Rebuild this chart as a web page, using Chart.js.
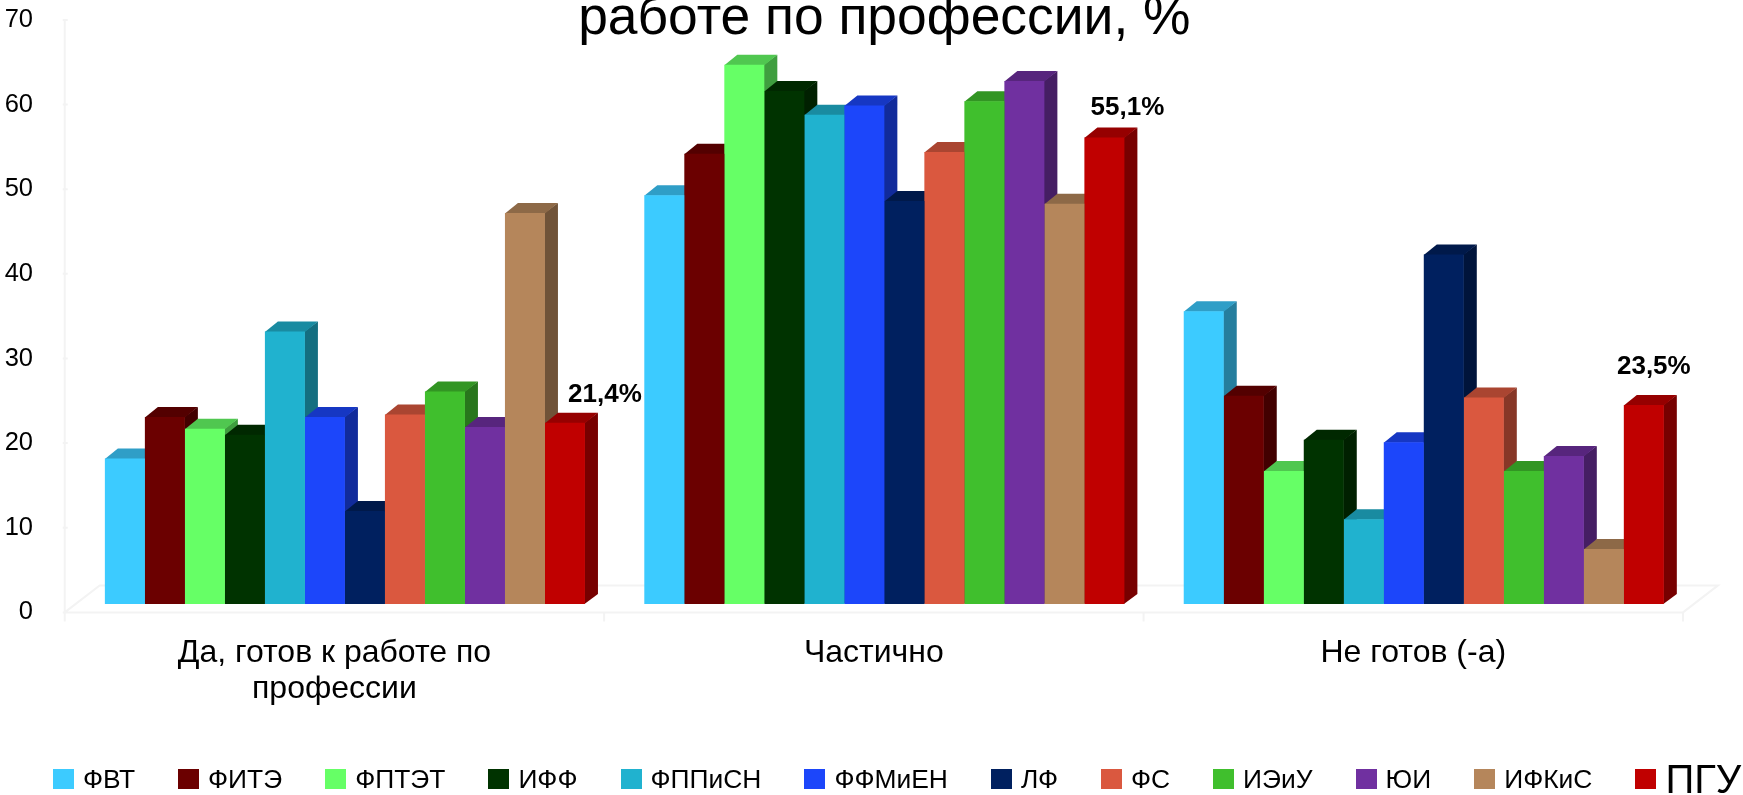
<!DOCTYPE html>
<html lang="ru"><head><meta charset="utf-8">
<script src="https://cdn.jsdelivr.net/npm/chart.js@4"></script>
<style>
html,body{margin:0;padding:0;background:#fff;width:1743px;height:795px;overflow:hidden;position:relative}
#c{position:absolute;left:0;top:0}
#legend{position:absolute;left:53px;top:748px;height:62px;display:flex;align-items:center;white-space:nowrap;font-family:"Liberation Sans",Arial,sans-serif;color:#000;font-size:26.4px}
#legend .it{display:flex;align-items:center;margin-right:43px}
#legend .sw{display:inline-block;width:21px;height:20px;margin-right:9px}
</style></head><body>
<canvas id="c" width="1743" height="795"></canvas>
<div id="legend"></div>
<script>
const categories = [["Да, готов к работе по","профессии"],"Частично","Не готов (-а)"];
const seriesNames = ["ФВТ","ФИТЭ","ФПТЭТ","ИФФ","ФППиСН","ФФМиЕН","ЛФ","ФС","ИЭиУ","ЮИ","ИФКиС","ПГУ"];
const seriesColors = ["#3ccbff","#6b0000","#66ff66","#003300","#20b2cf","#1c46fa","#00205f","#da583f","#40bf2d","#7030a0","#b5865b","#c00000"];
const fvt    = [17.2,48.3,34.6];
const fite   = [22.1,53.2,24.6];
const fptet  = [20.7,63.7,15.7];
const iff    = [20.0,60.6,19.4];
const fppisn = [32.2,57.8,10.0];
const ffmien = [22.1,58.9,19.1];
const lf     = [11.0,47.6,41.3];
const fs     = [22.4,53.4,24.4];
const ieiu   = [25.1,59.4,15.7];
const yui    = [20.9,61.8,17.5];
const ifkis  = [46.2,47.3,6.5];
const pgu    = [21.4,55.1,23.5];
const seriesValues = [fvt,fite,fptet,iff,fppisn,ffmien,lf,fs,ieiu,yui,ifkis,pgu];
const pguLabels = ["21,4%","55,1%","23,5%"];
const pguLabelOffsets = [[40,-28],[23,-30],[10,-38]];

const FONT = '"Liberation Sans", Arial, sans-serif';
const DX = 13, DY = 10, TICK_SHIFT_Y = 8.4, TICK_SHIFT_X = -10.5, FLOOR_DX = 35, FLOOR_DY = 27;
function shade(hex,f){const n=parseInt(hex.slice(1),16);return `rgb(${Math.round((n>>16&255)*f)},${Math.round((n>>8&255)*f)},${Math.round((n&255)*f)})`;}

const wall3d = {
  id:'wall3d',
  beforeDatasetsDraw(chart){
    const {ctx,scales:{x,y}} = chart;
    const bottom = y.getPixelForValue(0)+TICK_SHIFT_Y;
    const top = y.getPixelForValue(70)+TICK_SHIFT_Y;
    const band = (x.right-x.left)/categories.length;
    const left = x.left+TICK_SHIFT_X, right = x.right+TICK_SHIFT_X;
    ctx.save();
    ctx.strokeStyle='#f3f3f3'; ctx.lineWidth=2;
    ctx.beginPath();
    ctx.moveTo(left,top); ctx.lineTo(left,bottom+9);
    ctx.moveTo(left,bottom); ctx.lineTo(right,bottom);
    ctx.moveTo(left,bottom); ctx.lineTo(left+FLOOR_DX,bottom-FLOOR_DY); ctx.lineTo(right+FLOOR_DX,bottom-FLOOR_DY); ctx.lineTo(right,bottom);
    for(let i=1;i<=categories.length;i++){ctx.moveTo(left+band*i,bottom);ctx.lineTo(left+band*i,bottom+9);}
    for(const t of y.ticks){const p=y.getPixelForValue(t.value)+TICK_SHIFT_Y;ctx.moveTo(left-2,p);ctx.lineTo(left+3,p);}
    ctx.stroke();
    // side and top faces, left to right, so that each bar's faces cover its left neighbour's
    seriesNames.forEach((n,i)=>{
      const col = seriesColors[i];
      for(const el of chart.getDatasetMeta(i).data){
        const w = el.width, l = el.x-w/2, r = el.x+w/2, t = el.y, b = el.base;
        ctx.fillStyle = shade(col,0.62);
        ctx.beginPath();ctx.moveTo(r-0.5,t);ctx.lineTo(r+DX,t-DY);ctx.lineTo(r+DX,b-DY);ctx.lineTo(r-0.5,b);ctx.closePath();ctx.fill();
        ctx.fillStyle = shade(col,0.78);
        ctx.beginPath();ctx.moveTo(l,t+0.5);ctx.lineTo(l+DX,t-DY);ctx.lineTo(r+DX,t-DY);ctx.lineTo(r,t+0.5);ctx.closePath();ctx.fill();
      }
    });
    ctx.restore();
  },
  afterDatasetsDraw(chart){
    const {ctx} = chart;
    const meta = chart.getDatasetMeta(seriesNames.length-1);
    ctx.save();
    ctx.font = 'bold 26px '+FONT; ctx.fillStyle='#000'; ctx.textAlign='center'; ctx.textBaseline='middle';
    meta.data.forEach((el,i)=>ctx.fillText(pguLabels[i],el.x+pguLabelOffsets[i][0],el.y+pguLabelOffsets[i][1]));
    ctx.restore();
  }
};

new Chart(document.getElementById('c'),{
  type:'bar',
  data:{labels:categories,datasets:seriesNames.map((n,i)=>({label:n,data:seriesValues[i],backgroundColor:seriesColors[i]}))},
  plugins:[wall3d],
  options:{
    responsive:false,animation:false,
    layout:{padding:{top:11.5,right:49.5,left:0,bottom:0}},
    categoryPercentage:0.89,barPercentage:1,
    scales:{
      x:{grid:{display:false},border:{display:false},
        afterFit(s){s.height=191;s.paddingLeft=0;s.paddingRight=0;},
        ticks:{padding:23.5,labelOffset:TICK_SHIFT_X,maxRotation:0,minRotation:0,autoSkip:false,color:'#000',font:{family:FONT,size:32,lineHeight:1.125}}},
      y:{min:0,max:70,grid:{display:false},border:{display:false},
        afterFit(s){s.width=75.2;s.paddingTop=0;s.paddingBottom=0;},
        ticks:{stepSize:10,padding:34.2,labelOffset:TICK_SHIFT_Y,color:'#000',font:{family:FONT,size:25.5}}}
    },
    plugins:{
      legend:{display:false},tooltip:{enabled:false},
      title:{display:true,text:'работе по профессии, %',fullSize:false,color:'#000',
        font:{family:FONT,size:53.4,weight:'normal',lineHeight:1.2},
        padding:{top:-24,bottom:-40.08}}
    }
  }
});

const lg = document.getElementById('legend');
seriesNames.forEach((n,i)=>{
  const it=document.createElement('span');it.className='it';
  const sw=document.createElement('span');sw.className='sw';sw.style.background=seriesColors[i];
  const tx=document.createElement('span');tx.textContent=n;
  if(i===seriesNames.length-1){tx.style.fontSize='40px';}
  it.append(sw,tx);lg.append(it);
});
</script>
</body></html>
